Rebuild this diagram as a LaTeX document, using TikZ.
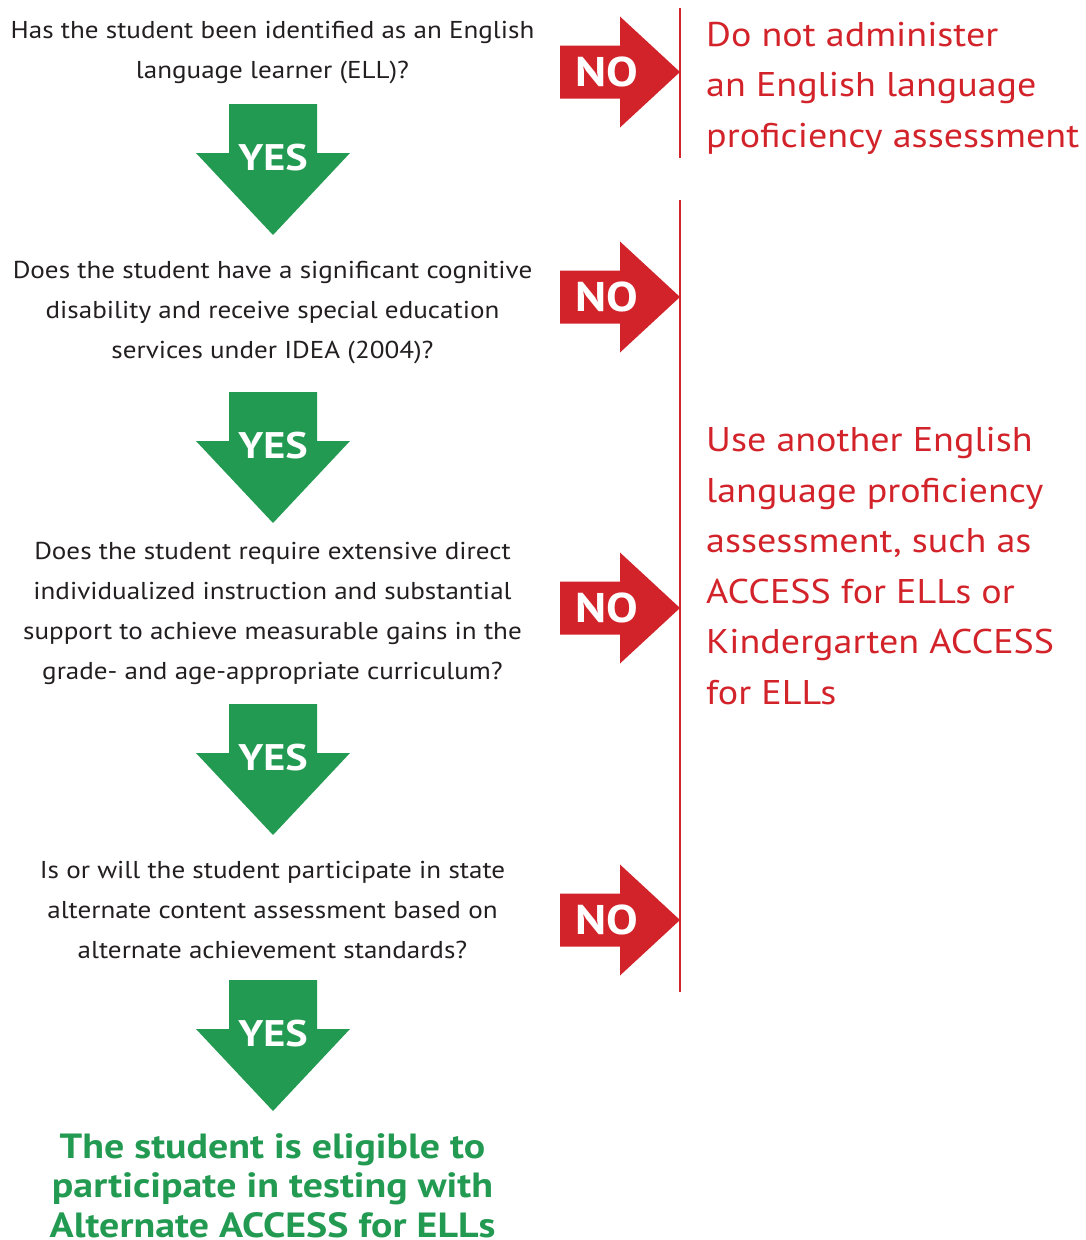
\documentclass[tikz,border=0pt]{standalone}
\usepackage{fontspec}
\setmainfont{PT Sans}[FakeStretch=1.11, BoldFeatures={FakeStretch=1.14}]
\usepackage{tikz}
\usetikzlibrary{positioning}
\definecolor{nored}{RGB}{211,35,42}
\definecolor{yesgreen}{RGB}{35,154,82}
\definecolor{qtext}{RGB}{35,31,32}
\tikzset{
    question/.style={
        align=center,
        text=qtext,
        inner sep=0pt,
        font=\fontsize{24.4}{40}\selectfont
    },
    outcome/.style={
        align=left,
        anchor=west,
        text=nored,
        inner sep=0pt,
        font=\fontsize{34.3}{50.5}\selectfont
    },
    eligible/.style={
        align=center,
        text=yesgreen,
        inner sep=0pt,
        font=\fontsize{35}{39.5}\selectfont\bfseries
    },
    yeslabel/.style={
        text=white,
        inner sep=0pt,
        font=\fontsize{37}{37}\selectfont\bfseries
    },
    nolabel/.style={
        text=white,
        inner sep=0pt,
        font=\fontsize{41.5}{41.5}\selectfont\bfseries
    },
    divider/.style={
        draw=nored,
        line width=2.6pt
    }
}
% green arrow pointing down: name, centre x, top y
\newcommand{\yesarrow}[3]{%
  \fill[yesgreen] (#2-44,#3) -- (#2+44,#3) -- (#2+44,#3+49) -- (#2+77,#3+49)
    -- (#2,#3+131) -- (#2-77,#3+49) -- (#2-44,#3+49) -- cycle;
  \node[yeslabel] (#1) at (#2,#3+54) {YES};
}
% red arrow pointing right: name, tip y
\newcommand{\noarrow}[2]{%
  \fill[nored] (560,#2-26.5) -- (620,#2-26.5) -- (620,#2-55.5) -- (680,#2)
    -- (620,#2+55.5) -- (620,#2+26.5) -- (560,#2+26.5) -- cycle;
  \node[nolabel] (#1) at (607,#2) {NO};
}
\begin{document}
\begin{tikzpicture}[x=1pt, y=-1pt]
\useasboundingbox (0,0) rectangle (1085,1240);

% Questions
\node[question] (q_ell) at (272.5,53) {Has the student been identified as an English\\language learner (ELL)?};
\node[question] (q_idea) at (272.5,313) {Does the student have a significant cognitive\\disability and receive special education\\services under IDEA (2004)?};
\node[question] (q_instr) at (272.5,613) {Does the student require extensive direct\\individualized instruction and substantial\\support to achieve measurable gains in the\\grade- and age-appropriate curriculum?};
\node[question] (q_alt) at (272.5,910) {Is or will the student participate in state\\alternate content assessment based on\\alternate achievement standards?};

% Result
\node[eligible] (result) at (272.5,1185.5) {The student is eligible to\\participate in testing with\\Alternate ACCESS for ELLs};

% YES arrows
\yesarrow{yes_ell}{273}{104}
\yesarrow{yes_idea}{273}{392}
\yesarrow{yes_instr}{273}{704}
\yesarrow{yes_alt}{273}{980}

% NO arrows
\noarrow{no_ell}{72}
\noarrow{no_idea}{297}
\noarrow{no_instr}{608}
\noarrow{no_alt}{920}

% Dividers
\coordinate (div_a_top) at (680,8);
\coordinate (div_a_bot) at (680,158);
\coordinate (div_b_top) at (680,200);
\coordinate (div_b_bot) at (680,992);
\draw[divider] (div_a_top) -- (div_a_bot);
\draw[divider] (div_b_top) -- (div_b_bot);

% Outcomes
\node[outcome] (no_test) at (706,88) {Do not administer\\an English language\\proficiency assessment};
\node[outcome] (other_test) at (706,566) {Use another English\\language proficiency\\assessment, such as\\ACCESS for ELLs or\\Kindergarten ACCESS\\for ELLs};

\end{tikzpicture}
\end{document}
